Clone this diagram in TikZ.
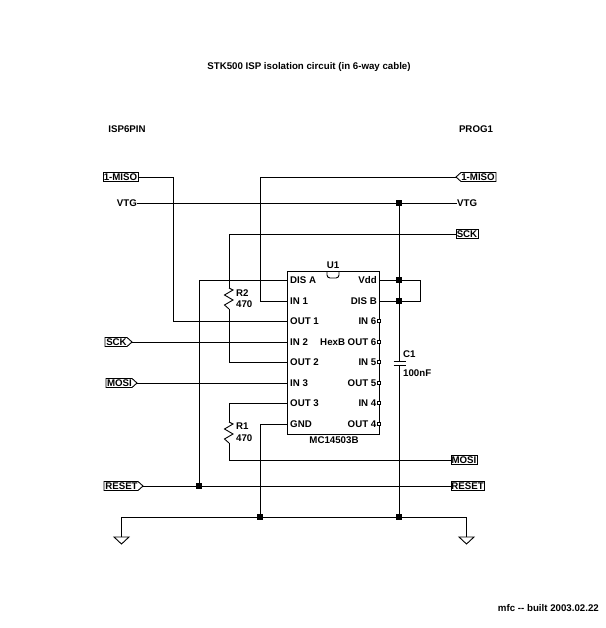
\documentclass[tikz,border=0pt]{standalone}
\usepackage{fontspec}
\setmainfont{Liberation Sans}
\tikzset{
	wire/.style={line width=0.9pt},
	txt/.style={font=\bfseries\fontsize{9.7}{11}\selectfont, inner sep=0pt},
	dot/.style={fill=black, rectangle, inner sep=0pt, minimum size=5.5pt},
	bubble/.style={fill=white, draw, rectangle, line width=0.6pt, inner sep=0pt, minimum size=3pt},
	flag/.style={line width=0.9pt, fill=white},
}
% #1 left end, #2 right end, #3 y, #4 name, #5 text
\newcommand{\flagbox}[5]{
	\draw[flag] (#1,#3-4.5) rectangle (#2,#3+4.5);
	\coordinate (#4w) at (#1,#3);
	\coordinate (#4e) at (#2,#3);
	\node[txt] (#4) at ({(#1+#2)/2},#3) {#5};
}
\newcommand{\flagout}[5]{
	\draw[flag] (#1,#3-4.5) -- (#2-5,#3-4.5) -- (#2,#3) -- (#2-5,#3+4.5) -- (#1,#3+4.5) -- cycle;
	\coordinate (#4e) at (#2,#3);
	\node[txt] (#4) at ({(#1+#2-4)/2},#3) {#5};
}
\newcommand{\flagin}[5]{
	\draw[flag] (#2,#3-4.5) -- (#1+5,#3-4.5) -- (#1,#3) -- (#1+5,#3+4.5) -- (#2,#3+4.5) -- cycle;
	\coordinate (#4w) at (#1,#3);
	\node[txt] (#4) at ({(#1+#2+4)/2},#3) {#5};
}
\begin{document}
\begin{tikzpicture}[x=1pt,y=-1pt]
	\useasboundingbox (0,0) rectangle (605,628);

	\node[txt] (title) at (309,67) {STK500 ISP isolation circuit (in 6-way cable)};
	\node[txt] (isp) at (127,129) {ISP6PIN};
	\node[txt] (prog) at (476,129) {PROG1};
	\node[txt, anchor=east] (built) at (599,608) {mfc -{}- built 2003.02.22};

	% the chip
	\node[draw, wire, rectangle, minimum width=92pt, minimum height=163pt, inner sep=0pt] (U1) at (333,352.5) {};
	\draw[wire, rounded corners=3pt] (327,271) -- (327,278) -- (339,278) -- (339,271);
	\node[txt] (U1name) at (333,265) {U1};
	\node[txt] (U1type) at (334,440) {MC14503B};

	\foreach \y/\pin/\lab in {280/disa/DIS A, 301/ina/IN 1, 321/outa/OUT 1, 342/inb/IN 2, 362/outb/OUT 2, 383/inc/IN 3, 403/outc/OUT 3, 424/gnd/GND} {
		\coordinate (\pin) at (287,\y);
		\node[txt, anchor=west] (\pin t) at (290,\y) {\lab};
	}
	\foreach \y/\pin/\lab in {280/vdd/Vdd, 301/disb/DIS B} {
		\coordinate (\pin) at (379,\y);
		\node[txt, anchor=east] (\pin t) at (377,\y) {\lab};
	}
	\foreach \y/\pin/\lab in {321/ind/IN 6, 342/outd/HexB OUT 6, 362/ine/IN 5, 383/oute/OUT 5, 403/inf/IN 4, 424/outf/OUT 4} {
		\node[txt, anchor=east] (\pin t) at (376.5,\y) {\lab};
		\node[bubble] (\pin) at (379,\y) {};
	}

	% ports
	\flagbox{103}{138}{177}{misol}{1-MISO}
	\flagout{105}{132}{342}{sckl}{SCK}
	\flagout{106}{137}{383}{mosil}{MOSI}
	\flagout{104}{143}{486}{resetl}{RESET}
	\flagin{456}{496}{177}{misor}{1-MISO}
	\flagbox{456}{478}{234}{sckr}{SCK}
	\flagbox{451}{477}{460}{mosir}{MOSI}
	\flagbox{451}{484}{486}{resetr}{RESET}
	\node[txt, anchor=east] (vtgl) at (137,203) {VTG};
	\node[txt, anchor=west] (vtgr) at (457,203) {VTG};

	% junctions
	\node[dot] (jvtg) at (399,203) {};
	\node[dot] (jvdd) at (399,280) {};
	\node[dot] (jdis) at (399,301) {};
	\node[dot] (jgnd) at (399,517) {};
	\node[dot] (jgnda) at (260,517) {};
	\node[dot] (jrst) at (199,486) {};

	\coordinate (gl) at (121,537);
	\coordinate (gr) at (466,537);
	\coordinate (r2a) at (229,288);
	\coordinate (r2b) at (229,309);
	\coordinate (r1a) at (229,422);
	\coordinate (r1b) at (229,443);
	\coordinate (c1a) at (399,361);
	\coordinate (c1b) at (399,365);

	% wires
	\draw[wire] (misole) -| (173,321) -- (outa);
	\draw[wire] (misorw) -| (260,301) -- (ina);
	\draw[wire] (vtgl.east) -- (jvtg) -- (vtgr.west);
	\draw[wire] (sckrw) -| (r2a);
	\draw[wire] (r2b) |- (outb);
	\draw[wire] (disa) -| (jrst);
	\draw[wire] (sckle) -- (inb);
	\draw[wire] (mosile) -- (inc);
	\draw[wire] (outc) -| (r1a);
	\draw[wire] (r1b) |- (mosirw);
	\draw[wire] (gnd) -| (jgnda);
	\draw[wire] (resetle) -- (resetrw);
	\draw[wire] (gl) |- (jgnd) -| (gr);
	\draw[wire] (jvtg) -- (jvdd) -- (jdis) -- (c1a);
	\draw[wire] (c1b) -- (jgnd);
	\draw[wire] (vdd) -- (jvdd) -- (420,280) -- (420,301) -- (jdis) -- (disb);

	% resistors
	\draw[wire] (r2a) -- ++(4,2) -- ++(-8.5,5) -- ++(8.5,5) -- ++(-8.5,5) -- (r2b);
	\draw[wire] (r1a) -- ++(4,2) -- ++(-8.5,5) -- ++(8.5,5) -- ++(-8.5,5) -- (r1b);
	\node[txt, anchor=west] (R2) at (236,293) {R2};
	\node[txt, anchor=west] (R2v) at (236,304) {470};
	\node[txt, anchor=west] (R1) at (236,426) {R1};
	\node[txt, anchor=west] (R1v) at (236,438) {470};

	% capacitor
	\draw[wire] (393.5,361) -- (405.5,361);
	\draw[wire] (393.5,365) -- (405.5,365);
	\node[txt, anchor=west] (C1) at (403,354) {C1};
	\node[txt, anchor=west] (C1v) at (403,373) {100nF};

	% grounds
	\draw[wire] (114,537) -- (129,537) -- (121.5,544) -- cycle;
	\draw[wire] (459,537) -- (474,537) -- (466.5,544) -- cycle;
\end{tikzpicture}
\end{document}
